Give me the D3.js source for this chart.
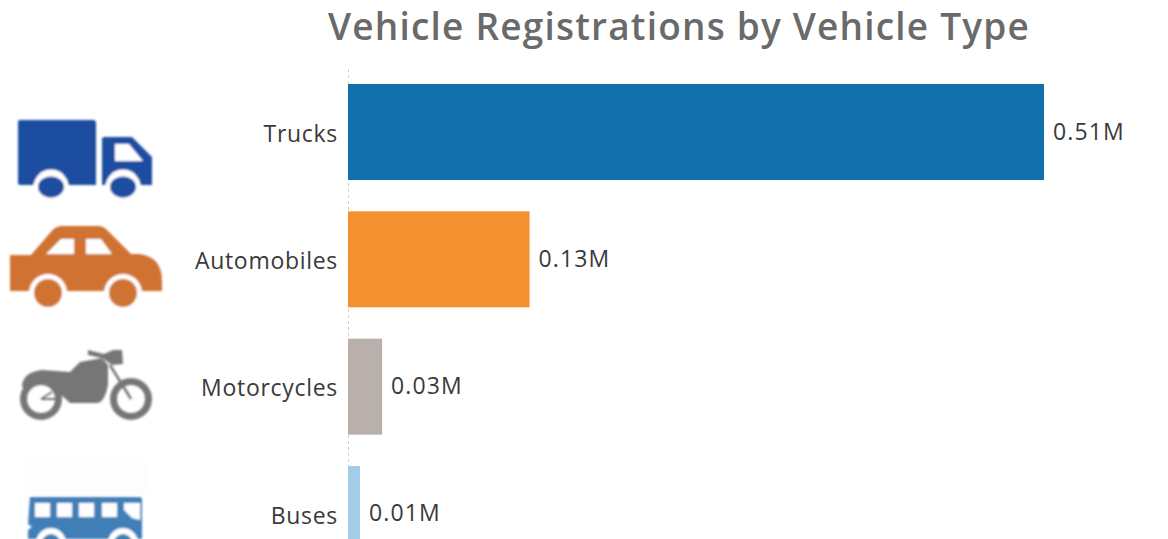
<!DOCTYPE html>
<html><head><meta charset="utf-8">
<script src="https://cdn.jsdelivr.net/npm/d3@7/dist/d3.min.js"></script>
<style>html,body{margin:0;padding:0;background:#fff;overflow:hidden}svg{display:block}text{font-family:"Open Sans",sans-serif}</style>
</head><body><div id="chart"></div>
<script>
const categories=["Trucks","Automobiles","Motorcycles","Buses"];
const values=[0.51,0.133,0.025,0.0088];
const valueLabels=["0.51M","0.13M","0.03M","0.01M"];
const colors=["#1170aa","#f5902e","#b9b0ab","#a3cce9"];
const title="Vehicle Registrations by Vehicle Type";

const W=1168,H=539;
const svg=d3.select("#chart").append("svg").attr("width",W).attr("height",H);
svg.append("defs").append("filter").attr("id","soft").append("feGaussianBlur").attr("stdDeviation",0.8);

const x=d3.scaleLinear().domain([0,0.51]).range([348,1044]);
const y=d3.scaleBand().domain(categories).range([84,562]).paddingInner(0.246).paddingOuter(0).align(0);

svg.append("text").attr("x",679).attr("y",40).attr("text-anchor","middle")
  .attr("font-size",37).attr("font-weight",600).attr("letter-spacing",1.2).attr("fill","#6a6a6a").text(title);

svg.append("line").attr("x1",348.5).attr("x2",348.5).attr("y1",69).attr("y2",H)
  .attr("stroke","#cfcfcf").attr("stroke-dasharray","3 3");

svg.selectAll("rect.bar").data(categories).join("rect").attr("class","bar")
  .attr("x",x(0)).attr("y",d=>y(d)).attr("height",y.bandwidth())
  .attr("width",(d,i)=>x(values[i])-x(0)).attr("fill",(d,i)=>colors[i]);

const yAxis=d3.axisLeft(y).tickSize(0).tickPadding(10);
const ax=svg.append("g").attr("transform","translate(348,0)").call(yAxis);
ax.select(".domain").remove();
ax.selectAll("text").attr("font-size",23).attr("font-weight",400).attr("letter-spacing",0.7).attr("fill","#3a3a3a")
  .attr("font-family","'Open Sans',sans-serif").attr("dy","0.42em");

svg.selectAll("text.val").data(categories).join("text").attr("class","val")
  .attr("x",(d,i)=>x(values[i])+9).attr("y",d=>y(d)+y.bandwidth()/2+7.5)
  .attr("font-size",23).attr("font-weight",400).attr("letter-spacing",1.1).attr("fill","#3a3a3a").text((d,i)=>valueLabels[i]);

// Pictograms
const icons=svg.append("g").attr("filter","url(#soft)");
// truck
const t=icons.append("g").attr("fill","#1f4ea1");
t.append("path").attr("d","M20 120H93Q96 120 96 123V185H20Q18 185 18 183V122Q18 120 20 120Z");
t.append("path").attr("d","M104 137H132L152 157V185H102V139Q102 137 104 137Z");
t.append("path").attr("d","M115 144H129L143 161H115Z").attr("fill","#fff");
[51,123].forEach(c=>{t.append("circle").attr("cx",c).attr("cy",187).attr("r",17.5).attr("fill","#fff");
 t.append("ellipse").attr("cx",c).attr("cy",187).attr("rx",13).attr("ry",10.5);});
// car
const c=icons.append("g").attr("fill","#cf7232");
c.append("path").attr("d","M10 255H31L50 233Q55 226 62 226H98Q103 226 107 230L131 254H138Q162 256 162 281V291H10Z");
c.append("path").attr("d","M46 254L61 239H74V254Z M86 239H101L112 254H86Z").attr("fill","#fff");
[48,123].forEach(cx=>{c.append("circle").attr("cx",cx).attr("cy",293).attr("r",19).attr("fill","#fff");
 c.append("circle").attr("cx",cx).attr("cy",293).attr("r",14);});
// motorcycle
const m=icons.append("g").attr("fill","#767676");
[41,131].forEach(cx=>{m.append("circle").attr("cx",cx).attr("cy",399).attr("r",17.5).attr("fill","none").attr("stroke","#767676").attr("stroke-width",7);});
m.append("path").attr("d","M22 385Q24 372 42 370L70 372L80 362L102 358L108 365V385Q104 404 96 403H70L60 394Q50 380 36 382L24 392Z");
m.append("path").attr("d","M88 350L104 354L113 350H122L123 364L112 365L102 358L88 355Z");
m.append("path").attr("d","M110 365L131 399").attr("stroke","#767676").attr("stroke-width",2.5);
m.append("path").attr("d","M41 399L52 392M41 399H56").attr("stroke","#767676").attr("stroke-width",2);
// bus
icons.append("rect").attr("x",23).attr("y",462).attr("width",124).attr("height",33).attr("fill","#fdfdfd");
const b=icons.append("g").attr("fill","#3f7fb8");
b.append("path").attr("d","M30 497H140Q142 497 142 500V539H28V530L32 527L28 524Z");
[35,57,79,102].forEach(px=>b.append("rect").attr("x",px).attr("y",503).attr("width",15).attr("height",14).attr("fill","#fff"));
b.append("path").attr("d","M124 503H140V520L132 518L124 510Z").attr("fill","#fff");
[51,123].forEach(cx=>{b.append("circle").attr("cx",cx).attr("cy",543).attr("r",15).attr("fill","#fff");
 b.append("circle").attr("cx",cx).attr("cy",543).attr("r",9);});
</script></body></html>
